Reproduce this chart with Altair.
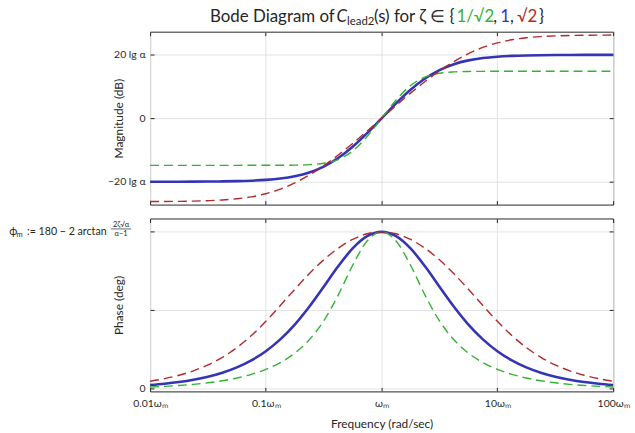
import altair as alt
import pandas as pd

# ---------------- data ----------------
# frequency samples, in units of omega_m
freq = [0.01, 0.013335, 0.017783, 0.023714, 0.031623, 0.04217, 0.056234, 0.074989,
        0.1, 0.13335, 0.17783, 0.23714, 0.31623, 0.4217, 0.56234, 0.74989,
        1.0, 1.3335, 1.7783, 2.3714, 3.1623, 4.217, 5.6234, 7.4989,
        10.0, 13.335, 17.783, 23.714, 31.623, 42.17, 56.234, 74.989, 100.0]

# magnitude, in units of 20 lg(alpha)
mag_green = [-0.7412, -0.7412, -0.7412, -0.7412, -0.7412, -0.7412, -0.7412, -0.7411,
             -0.7409, -0.7401, -0.7379, -0.7308, -0.7094, -0.6503, -0.5155, -0.2872,
             0.0, 0.2872, 0.5155, 0.6503, 0.7094, 0.7308, 0.7379, 0.7401,
             0.7409, 0.7411, 0.7412, 0.7412, 0.7412, 0.7412, 0.7412, 0.7412, 0.7412]
mag_blue = [-0.9997, -0.9995, -0.9991, -0.9983, -0.9970, -0.9947, -0.9906, -0.9835,
            -0.9709, -0.9493, -0.9127, -0.8530, -0.7603, -0.6265, -0.4489, -0.2348,
            0.0, 0.2348, 0.4489, 0.6265, 0.7603, 0.8530, 0.9127, 0.9493,
            0.9709, 0.9835, 0.9906, 0.9947, 0.9970, 0.9983, 0.9991, 0.9995, 0.9997]
mag_red = [-1.3119, -1.3107, -1.3086, -1.3049, -1.2985, -1.2875, -1.2686, -1.2376,
           -1.1889, -1.1171, -1.0189, -0.8943, -0.7464, -0.5792, -0.3962, -0.2015,
           0.0, 0.2015, 0.3962, 0.5792, 0.7464, 0.8943, 1.0189, 1.1171,
           1.1889, 1.2376, 1.2686, 1.2875, 1.2985, 1.3049, 1.3086, 1.3107, 1.3119]

# phase, in units of phi_m
ph_green = [0.0123, 0.0164, 0.0218, 0.0291, 0.0388, 0.0518, 0.0693, 0.0927,
            0.1244, 0.1677, 0.2278, 0.3125, 0.4330, 0.5972, 0.7873, 0.9419,
            1.0, 0.9419, 0.7873, 0.5972, 0.4330, 0.3125, 0.2278, 0.1677,
            0.1244, 0.0927, 0.0693, 0.0518, 0.0388, 0.0291, 0.0218, 0.0164, 0.0123]
ph_blue = [0.0245, 0.0327, 0.0436, 0.0581, 0.0774, 0.1030, 0.1370, 0.1817,
           0.2402, 0.3155, 0.4099, 0.5234, 0.6509, 0.7806, 0.8944, 0.9722,
           1.0, 0.9722, 0.8944, 0.7806, 0.6509, 0.5234, 0.4099, 0.3155,
           0.2402, 0.1817, 0.1370, 0.1030, 0.0774, 0.0581, 0.0436, 0.0327, 0.0245]
ph_red = [0.0490, 0.0652, 0.0868, 0.1153, 0.1527, 0.2013, 0.2632, 0.3397,
          0.4301, 0.5305, 0.6341, 0.7332, 0.8217, 0.8954, 0.9518, 0.9876,
          1.0, 0.9876, 0.9518, 0.8954, 0.8217, 0.7332, 0.6341, 0.5305,
          0.4301, 0.3397, 0.2632, 0.2013, 0.1527, 0.1153, 0.0868, 0.0652, 0.0490]

series = ["1/√2", "1", "√2"]
x_ticks = [0.01, 0.1, 1, 10, 100]
x_tick_labels = ["0.01ωₘ", "0.1ωₘ", "ωₘ", "10ωₘ", "100ωₘ"]
mag_ticks = [-1, 0, 1]
mag_tick_labels = ["−20 lg α", "0", "20 lg α"]
ph_ticks = [0, 0.5, 1]

records = []
for name, m, p in zip(series, [mag_green, mag_blue, mag_red], [ph_green, ph_blue, ph_red]):
    for f, mv, pv in zip(freq, m, p):
        records.append({"freq": f, "mag": mv, "phase": pv, "zeta": name})
df = pd.DataFrame(records)
one = pd.DataFrame({"k": [0]})

# ---------------- styling ----------------
W, H = 466, 174
AX = "#262626"
GRID = "#e2e2e2"
FONT = "Lato"
GREEN = "#33b233"
BLUE = "#3434b4"
RED = "#b3292e"
styles = {
    "1": dict(color=BLUE, strokeWidth=2.6),
    "1/√2": dict(color=GREEN, strokeWidth=1.4, strokeDash=[9, 5]),
    "√2": dict(color=RED, strokeWidth=1.4, strokeDash=[9, 5]),
}
draw_order = ["1", "1/√2", "√2"]

xs = alt.Scale(type="log", domain=[0.01, 100])
x_label_expr = ("datum.value < 0.05 ? '%s' : datum.value < 0.5 ? '%s' : datum.value < 5 ? '%s' "
                ": datum.value < 50 ? '%s' : '%s'") % tuple(x_tick_labels)


def line_layers(field, ys, x_axis, y_axis):
    layers = []
    for i, name in enumerate(draw_order):
        if i == 0:
            xenc = alt.X("freq:Q", scale=xs, axis=x_axis)
            yenc = alt.Y(f"{field}:Q", scale=ys, axis=y_axis)
        else:
            xenc = alt.X("freq:Q", scale=xs, axis=None)
            yenc = alt.Y(f"{field}:Q", scale=ys, axis=None)
        layers.append(
            alt.Chart(df).transform_filter(alt.datum.zeta == name)
            .mark_line(interpolate="monotone", **styles[name])
            .encode(x=xenc, y=yenc)
        )
    return layers


def tick_layers(field, ys, yvals):
    common = dict(ticks=True, tickSize=4, tickColor=AX, tickWidth=1,
                  labels=False, grid=False, domain=False)
    a = alt.Chart(df).mark_line(strokeOpacity=0).encode(
        x=alt.X("freq:Q", scale=xs, title=None,
                axis=alt.Axis(orient="top", offset=-H, values=x_ticks, **common)),
        y=alt.Y(f"{field}:Q", scale=ys, title=None,
                axis=alt.Axis(orient="right", offset=-W, values=yvals, **common)),
        detail="zeta:N")
    b = alt.Chart(df).mark_line(strokeOpacity=0).encode(
        x=alt.X("freq:Q", scale=xs, title=None,
                axis=alt.Axis(orient="bottom", offset=-H, values=x_ticks, **common)),
        y=alt.Y(f"{field}:Q", scale=ys, title=None,
                axis=alt.Axis(orient="left", offset=-W, values=yvals, **common)),
        detail="zeta:N")
    return [a, b]


def txt(text, x, y, size, color=AX, align="left", style="normal"):
    return alt.Chart(one).mark_text(
        align=align, baseline="alphabetic", fontSize=size, font=FONT,
        color=color, fontStyle=style
    ).encode(x=alt.value(x), y=alt.value(y), text=alt.value(text))


def y_axis(values, label_expr, title):
    return alt.Axis(
        orient="left", values=values, labelExpr=label_expr, grid=True, gridColor=GRID,
        ticks=False, tickSize=0, domain=False, labelFont=FONT, labelFontSize=10.5,
        labelColor=AX, labelPadding=5, title=title, titleFont=FONT, titleFontSize=12,
        titleFontWeight="normal", titleColor=AX, titleAngle=270, titleX=-32, titleY=H / 2,
        titleAlign="center", titleBaseline="middle")


# ---------------- top panel: magnitude ----------------
ys_mag = alt.Scale(domain=[-1.36, 1.365])
x_axis_top = alt.Axis(orient="bottom", values=x_ticks, grid=True, gridColor=GRID,
                      ticks=False, tickSize=0, domain=False, labels=False, title=None)
mag_label_expr = ("datum.value < -0.5 ? '%s' : datum.value > 0.5 ? '%s' : '%s'"
                  % (mag_tick_labels[0], mag_tick_labels[2], mag_tick_labels[1]))
ty = -9.7
title_parts = [
    txt("Bode Diagram of", 60.3, ty, 17),
    txt("C", 187.6, ty, 17, style="italic"),
    txt("lead2", 198.2, ty + 3.4, 11.5),
    txt("(s) for ζ ∈ {", 225.3, ty, 17),
    txt("1/√2", 308.3, ty, 17, color=GREEN),
    txt(",", 345.3, ty, 17),
    txt("1", 352.3, ty, 17, color=BLUE),
    txt(",", 362.3, ty, 17),
    txt("√2", 369.3, ty, 17, color=RED),
    txt("}", 391.3, ty, 17),
]
top = alt.layer(
    *line_layers("mag", ys_mag, x_axis_top, y_axis(mag_ticks, mag_label_expr, "Magnitude (dB)")),
    *tick_layers("mag", ys_mag, mag_ticks),
    *title_parts,
).properties(width=W, height=H)

# ---------------- bottom panel: phase ----------------
ys_ph = alt.Scale(domain=[-0.016, 1.085])
x_axis_bot = alt.Axis(orient="bottom", values=x_ticks, grid=True, gridColor=GRID,
                      ticks=False, tickSize=0, domain=False, labels=True, labelFlush=False,
                      labelExpr=x_label_expr, labelFont=FONT, labelFontSize=10.5,
                      labelColor=AX, labelPadding=7,
                      title="Frequency (rad/sec)", titleFont=FONT, titleFontSize=12,
                      titleFontWeight="normal", titleColor=AX, titleX=W / 2, titleY=36.3,
                      titleAlign="center", titleBaseline="alphabetic")
ph_label_expr = "datum.value == 0 ? '0' : ''"
phi_parts = [
    txt("ϕ", -141.7, 16.3, 11),
    txt("m", -134.4, 18.8, 7.5),
    txt(":= 180 − 2 arctan", -43.7, 16.3, 10.7, align="right"),
    txt("2ζ√α", -29.2, 8.3, 7.5, align="center"),
    txt("α−1", -29.2, 17.4, 7.5, align="center"),
    alt.Chart(one).mark_rule(color=AX, strokeWidth=0.7).encode(
        x=alt.value(-39.5), x2=alt.value(-19.0), y=alt.value(10.5)),
]
bottom = alt.layer(
    *line_layers("phase", ys_ph, x_axis_bot, y_axis(ph_ticks, ph_label_expr, "Phase (deg)")),
    *tick_layers("phase", ys_ph, ph_ticks),
    *phi_parts,
).properties(width=W, height=H)

chart = alt.vconcat(top, bottom, spacing=14, bounds="flush").properties(
    padding={"left": 8, "top": 5.5, "right": 5, "bottom": 5}
).configure_view(stroke=AX, strokeWidth=1)

chart.save("out.html", embed_options={"renderer": "svg", "actions": False})
